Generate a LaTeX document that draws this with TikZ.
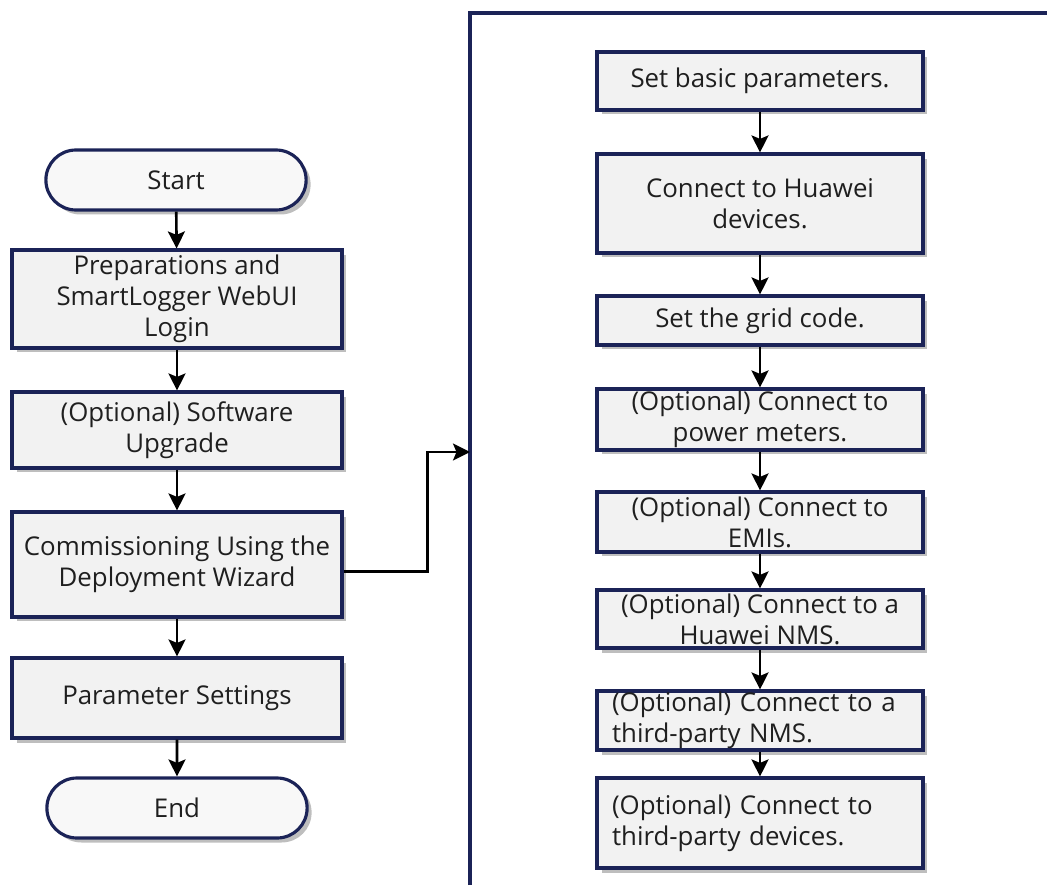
\documentclass[tikz,border=0pt]{standalone}
\usepackage{fontspec}
\setmainfont{Open Sans}
\usepackage{xcolor}
\usepackage{tikz}
\usetikzlibrary{positioning, shapes.misc, arrows.meta, shadows}

\definecolor{boxline}{HTML}{1B2357}
\definecolor{boxfill}{HTML}{F2F2F2}
\definecolor{termfill}{HTML}{F8F8F8}
\definecolor{shadowgray}{HTML}{BEBEBE}

\begin{document}
\begin{tikzpicture}[x=0.02cm, y=-0.02cm,
                flowtext/.style={font=\fontsize{14.7}{17.6}\selectfont, text=black!88},
                procbox/.style={flowtext, draw=boxline, line width=1.8pt, fill=boxfill, rectangle, align=center, inner sep=0pt,
                    general shadow={fill=shadowgray, shadow xshift=0.09cm, shadow yshift=-0.09cm}},
                leftbox/.style={procbox, minimum width=6.6cm},
                wizbox/.style={procbox, minimum width=6.52cm},
                wizleft/.style={wizbox, align=left, text width=5.92cm, inner xsep=0.3cm},
                terminal/.style={flowtext, draw=boxline, line width=1.8pt, fill=termfill, rounded rectangle, minimum width=5.44cm, minimum height=1.2cm,
                    general shadow={fill=shadowgray, shadow xshift=0.09cm, shadow yshift=-0.09cm}},
                flow/.style={black, line width=1.5pt, -{Stealth[length=0.34cm, width=0.34cm, inset=0.07cm]}},
                frame/.style={draw=boxline, line width=2pt}
            ]
            \useasboundingbox (0,0) rectangle (1047,885);

            % Hauptablauf
            \node[terminal] (start) at (176,180) {Start};
            \node[leftbox, minimum height=1.96cm] (prep) at (177,299) {Preparations and\\SmartLogger WebUI\\Login};
            \node[leftbox, minimum height=1.52cm] (upgrade) at (177,430) {(Optional) Software\\Upgrade};
            \node[leftbox, minimum height=2.1cm] (wizard) at (177,564.5) {Commissioning Using the\\Deployment Wizard};
            \node[leftbox, minimum height=1.6cm] (params) at (177,698) {Parameter Settings};
            \node[terminal] (end) at (177,808) {End};

            \draw[flow] (start) -- (prep);
            \draw[flow] (prep) -- (upgrade);
            \draw[flow] (upgrade) -- (wizard);
            \draw[flow] (wizard) -- (params);
            \draw[flow] (params) -- (end);

            % Rahmen des Assistenten
            \draw[frame] (470,885) -- (470,13) -- (1047,13);
            \coordinate (wizin) at (470,452);
            \draw[flow] ([yshift=-0.14cm]wizard.east) -- ++(84,0) |- (wizin);

            % Schritte des Assistenten
            \node[wizbox, minimum height=1.16cm] (basic) at (760,81) {Set basic parameters.};
            \node[wizbox, minimum height=1.98cm] (huawei) at (760,203.5) {Connect to Huawei\\devices.};
            \node[wizbox, minimum height=0.98cm] (grid) at (760,320.5) {Set the grid code.};
            \node[wizbox, minimum height=1.22cm] (meters) at (760,419.5) {(Optional) Connect to\\power meters.};
            \node[wizbox, minimum height=1.2cm] (emis) at (760,522) {(Optional) Connect to\\EMIs.};
            \node[wizbox, minimum height=1.16cm] (hwnms) at (760,619) {(Optional) Connect to a\\Huawei NMS.};
            \node[wizleft, minimum height=1.18cm] (tpnms) at (760,720.5) {(Optional) Connect to a\\third-party NMS.};
            \node[wizleft, minimum height=1.8cm] (tpdev) at (760,823) {(Optional) Connect to\\third-party devices.};

            \draw[flow] (basic) -- (huawei);
            \draw[flow] (huawei) -- (grid);
            \draw[flow] (grid) -- (meters);
            \draw[flow] (meters) -- (emis);
            \draw[flow] (emis) -- (hwnms);
            \draw[flow] (hwnms) -- (tpnms);
            \draw[flow] (tpnms) -- (tpdev);

        \end{tikzpicture}
\end{document}
